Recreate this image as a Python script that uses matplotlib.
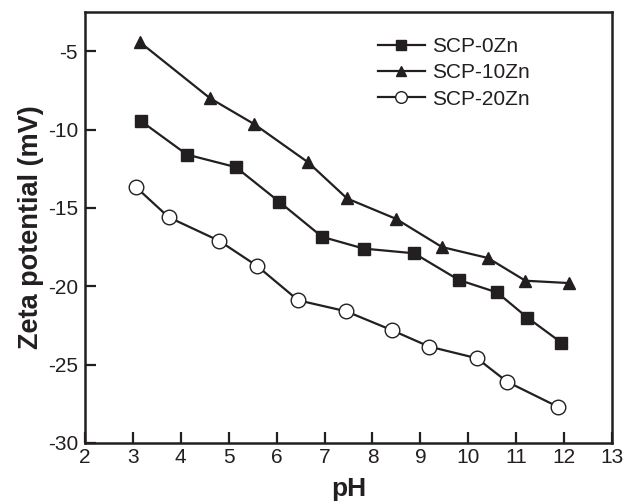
import matplotlib
matplotlib.use("Agg")
import matplotlib.pyplot as plt

plt.rcParams['font.family'] = ['Liberation Sans', 'DejaVu Sans']
plt.rcParams['axes.unicode_minus'] = False

ph_0 = [3.17, 4.13, 5.15, 6.05, 6.95, 7.82, 8.87, 9.80, 10.60, 11.23, 11.94]
zeta_0 = [-9.46, -11.6, -12.4, -14.6, -16.85, -17.6, -17.9, -19.6, -20.4, -22.0, -23.6]

ph_10 = [3.15, 4.61, 5.53, 6.66, 7.47, 8.49, 9.45, 10.41, 11.19, 12.10]
zeta_10 = [-4.43, -8.0, -9.65, -12.1, -14.4, -15.7, -17.5, -18.2, -19.65, -19.8]

ph_20 = [3.06, 3.75, 4.80, 5.59, 6.45, 7.45, 8.40, 9.18, 10.18, 10.81, 11.87]
zeta_20 = [-13.66, -15.6, -17.1, -18.7, -20.9, -21.6, -22.8, -23.85, -24.6, -26.1, -27.7]

labels = ['SCP-0Zn', 'SCP-10Zn', 'SCP-20Zn']
xticks = list(range(2, 14))
yticks = [-30, -25, -20, -15, -10, -5]

fig = plt.figure(figsize=(6.24, 5.01), dpi=100)
ax = fig.add_axes([0.136, 0.116, 0.845, 0.86])

c = '#231f20'
ax.plot(ph_0, zeta_0, '-s', color=c, lw=1.6, ms=8.5, mfc=c, mec=c, label=labels[0])
ax.plot(ph_10, zeta_10, '-^', color=c, lw=1.6, ms=9, mfc=c, mec=c, label=labels[1])
ax.plot(ph_20, zeta_20, '-o', color=c, lw=1.6, ms=10.5, mfc='white', mec=c, mew=1.0, label=labels[2])

ax.set_xlim(2, 13)
ax.set_ylim(-30, -2.5)
ax.set_xticks(xticks)
ax.set_yticks(yticks)
ax.tick_params(direction='in', length=8, width=1.6, labelsize=15, colors=c, labelcolor=c)
ax.tick_params(axis='x', pad=4)
ax.tick_params(axis='y', pad=5)
for s in ax.spines.values():
    s.set_linewidth(1.8)
    s.set_color(c)

ax.set_xlabel('pH', fontsize=19, fontweight='bold', labelpad=7, color=c)
ax.set_ylabel('Zeta potential (mV)', fontsize=19.5, fontweight='bold', labelpad=3, color=c)

leg = fig.legend(loc='upper left', bbox_to_anchor=(378 / 624, 1 - 37 / 501), frameon=False, fontsize=15,
                 handlelength=2.25, handletextpad=0.35, labelspacing=0.35, borderpad=0, borderaxespad=0,
                 markerscale=0.8)
for t in leg.get_texts():
    t.set_color(c)

fig.savefig('out.png', dpi=100)
